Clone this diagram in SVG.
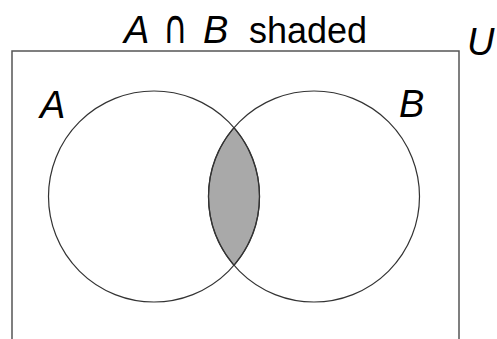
<svg xmlns="http://www.w3.org/2000/svg" width="497" height="339" viewBox="0 0 497 339">
<style>
.lbl{font-family:"Liberation Sans",Arial,sans-serif;font-style:italic;font-size:38px;fill:#000}
.t{font-family:"Liberation Sans",Arial,sans-serif;font-size:36px;fill:#000}
.cap{font-family:"DejaVu Sans",sans-serif;font-size:47px;fill:#000}
.c{fill:none;stroke:#333;stroke-width:1.2}
</style>
<rect x="0" y="0" width="497" height="339" fill="#fff"/>
<g id="title">
<text class="lbl" x="124" y="43">A</text>
<text class="cap" transform="translate(163,43) scale(0.72,1)" x="0" y="0">∩</text>
<text class="lbl" x="203" y="43">B</text>
<text class="t" x="249" y="43">shaded</text>
</g>
<g id="universe">
<rect x="12" y="51" width="447" height="300" fill="none" stroke="#555" stroke-width="1.5"/>
<text class="lbl" x="467" y="55">U</text>
</g>
<g id="intersection">
<path d="M234,127.7 A105.5,105.5 0 0 1 234,265.3 A105.5,105.5 0 0 1 234,127.7 Z" fill="#a9a9a9" stroke="#333" stroke-width="1.2"/>
</g>
<g id="setA">
<circle class="c" cx="154" cy="196.5" r="105.5"/>
<text class="lbl" x="40" y="118">A</text>
</g>
<g id="setB">
<circle class="c" cx="314" cy="196.5" r="105.5"/>
<text class="lbl" x="399" y="117">B</text>
</g>
<g id="connectors"></g>
</svg>
